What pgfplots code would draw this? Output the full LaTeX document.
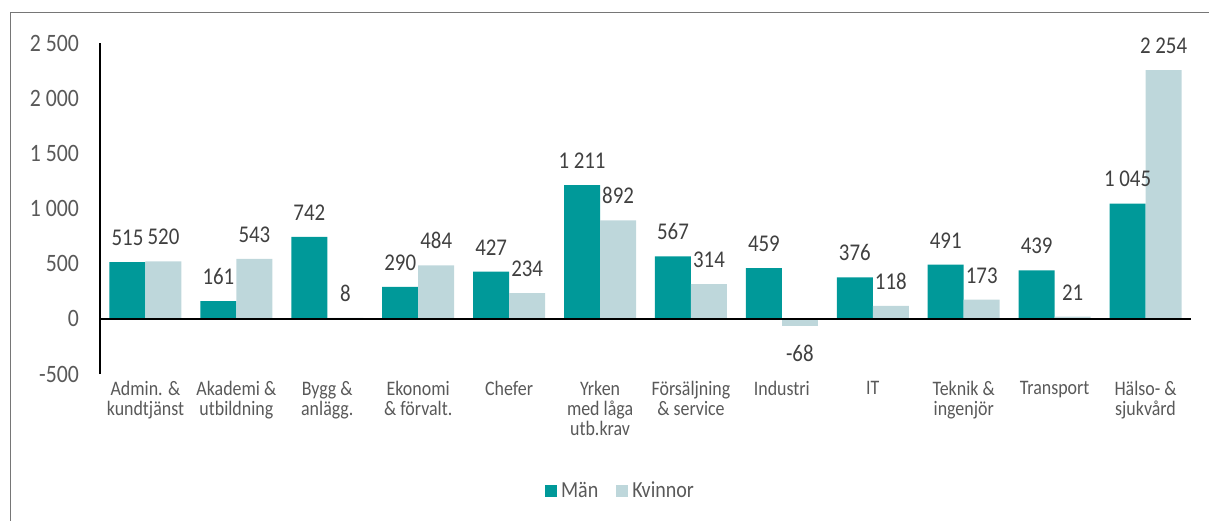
\documentclass[border=0pt]{standalone}
\usepackage{fontspec}
\setmainfont{Carlito}[FakeStretch=0.87]
\usepackage{pgfplots}
\pgfplotsset{compat=1.18}
\definecolor{man}{RGB}{0,153,153}
\definecolor{kvinna}{RGB}{190,215,219}
\definecolor{txt}{RGB}{89,89,89}
\definecolor{lab}{RGB}{64,64,64}
\definecolor{frame}{RGB}{118,118,118}
\pgfplotsset{sqleg/.style={legend image code/.code={\fill[##1] (0pt,-3pt) rectangle (6pt,3pt);}}}
\begin{document}
\begin{tikzpicture}
\useasboundingbox (-50pt,-73pt) rectangle (554.5pt,187pt);
\draw[frame, line width=0.6pt] (-44.65pt,-80pt) -- (-44.65pt,180.75pt) -- (560pt,180.75pt);
\begin{axis}[
  at={(0,0)}, anchor=south west,
  scale only axis, width=545.5pt, height=165.5pt,
  clip=false,
  ybar=0pt, bar width=18pt,
  xmin=-0.5, xmax=11.5, ymin=-500, ymax=2500,
  axis line style={draw=none},
  tick style={draw=none}, major tick length=0pt,
  ytick={-500,0,500,1000,1500,2000,2500},
  yticklabels={-500,0,500,1 000,1 500,2 000,2 500},
  yticklabel style={font=\fontsize{12.5}{14}\selectfont, text=txt, xshift=-7pt},
  xtick={0,1,2,3,4,5,6,7,8,9,10,11},
  xticklabels={{Admin. \&\\kundtjänst},{Akademi \&\\utbildning},{Bygg \&\\anlägg.},{Ekonomi\\\& förvalt.},Chefer,{Yrken\\med låga\\utb.krav},{Försäljning\\\& service},Industri,IT,{Teknik \&\\ingenjör},Transport,{Hälso- \&\\sjukvård}},
  xticklabel style={font=\fontsize{10.3}{10}\selectfont, text=txt, align=center},
  nodes near coords, point meta=explicit symbolic,
  every node near coord/.append style={font=\fontsize{12}{14}\selectfont, text=lab, inner sep=8pt},
  legend style={at={(0.478,-0.3535)}, anchor=center, draw=none, fill=none,
    legend columns=2, font=\fontsize{11.5}{13}\selectfont, text=txt,
    /tikz/every even column/.append style={column sep=7pt}},
]
\addplot[fill=man, draw=none, sqleg] coordinates {
(0,515) [515] (1,161) [161] (2,742) [742] (3,290) [290] (4,427) [427] (5,1211) [1 211]
(6,567) [567] (7,459) [459] (8,376) [376] (9,491) [491] (10,439) [439] (11,1045) [1 045]
};
\addlegendentry{Män}
\addplot[fill=kvinna, draw=none, sqleg] coordinates {
(0,520) [520] (1,543) [543] (2,8) [8] (3,484) [484] (4,234) [234] (5,892) [892]
(6,314) [314] (8,118) [118] (9,173) [173] (10,21) [21] (11,2254) [2 254]
};
\addlegendentry{Kvinnor}
\addplot[fill=kvinna, draw=none, forget plot, bar shift=9pt,
  every node near coord/.append style={anchor=north, inner sep=9pt}] coordinates {
(7,-68) [-68]
};
\draw[black, line width=1pt] (axis cs:-0.5,0) -- (axis cs:11.5,0);
\draw[black, line width=1pt] (axis cs:-0.5,-500) -- (axis cs:-0.5,2500);
\end{axis}
\end{tikzpicture}
\end{document}
